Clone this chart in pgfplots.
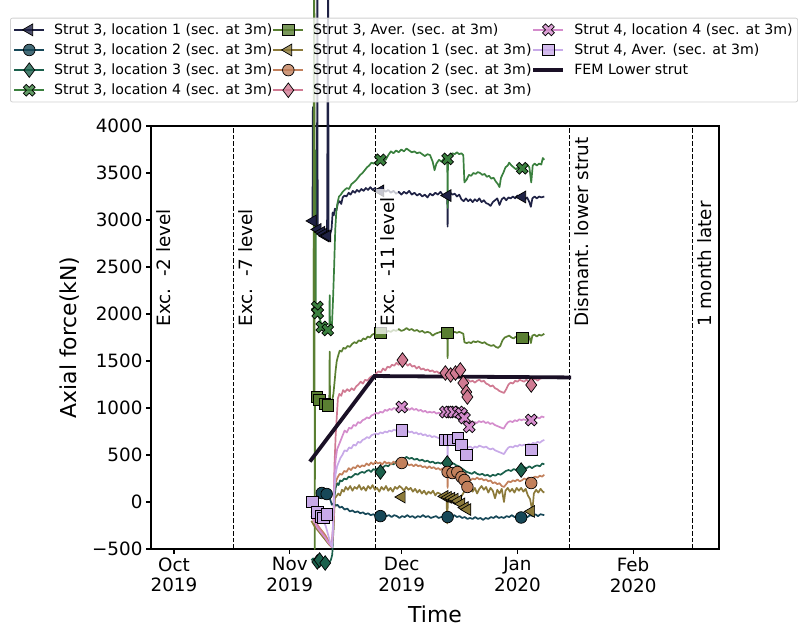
\documentclass[border=0pt]{standalone}
\usepackage{fontspec}
\setmainfont{DejaVu Sans}
\usepackage{pgfplots}
\pgfplotsset{compat=1.18}
\definecolor{c1}{RGB}{31,34,69}
\definecolor{c2}{RGB}{23,72,88}
\definecolor{c3}{RGB}{27,96,76}
\definecolor{c4}{RGB}{58,128,62}
\definecolor{c5}{RGB}{90,127,50}
\definecolor{c6}{RGB}{140,122,58}
\definecolor{c7}{RGB}{194,128,92}
\definecolor{c8}{RGB}{208,122,146}
\definecolor{c9}{RGB}{212,140,204}
\definecolor{c10}{RGB}{200,170,232}
\definecolor{c11}{RGB}{26,16,38}
\pgfdeclareplotmark{Xfill}{%
  \pgfpathmoveto{\pgfqpoint{-0.474\pgfplotmarksize}{0.940\pgfplotmarksize}}%
  \pgfpathlineto{\pgfqpoint{0pt}{0.467\pgfplotmarksize}}%
  \pgfpathlineto{\pgfqpoint{0.474\pgfplotmarksize}{0.940\pgfplotmarksize}}%
  \pgfpathlineto{\pgfqpoint{0.940\pgfplotmarksize}{0.474\pgfplotmarksize}}%
  \pgfpathlineto{\pgfqpoint{0.467\pgfplotmarksize}{0pt}}%
  \pgfpathlineto{\pgfqpoint{0.940\pgfplotmarksize}{-0.474\pgfplotmarksize}}%
  \pgfpathlineto{\pgfqpoint{0.474\pgfplotmarksize}{-0.940\pgfplotmarksize}}%
  \pgfpathlineto{\pgfqpoint{0pt}{-0.467\pgfplotmarksize}}%
  \pgfpathlineto{\pgfqpoint{-0.474\pgfplotmarksize}{-0.940\pgfplotmarksize}}%
  \pgfpathlineto{\pgfqpoint{-0.940\pgfplotmarksize}{-0.474\pgfplotmarksize}}%
  \pgfpathlineto{\pgfqpoint{-0.467\pgfplotmarksize}{0pt}}%
  \pgfpathlineto{\pgfqpoint{-0.940\pgfplotmarksize}{0.474\pgfplotmarksize}}%
  \pgfpathclose
  \pgfusepathqfillstroke
}
\pgfplotsset{
  ln/.style={line width=1.7bp, line join=round, forget plot},
  mk/.style={only marks, forget plot},
  m1/.style={mark=triangle*, mark size=6.8bp, mark options={rotate=90, fill=c1, draw=black, line width=0.7bp, solid}},
  m2/.style={mark=*, mark size=5.8bp, mark options={fill=c2, draw=black, line width=0.7bp, solid}},
  m3/.style={mark=diamond*, mark size=7.3bp, mark options={fill=c3, draw=black, line width=0.7bp, solid}},
  m4/.style={mark=Xfill, mark size=6.3bp, mark options={fill=c4, draw=black, line width=0.7bp, solid}},
  m5/.style={mark=square*, mark size=5.8bp, mark options={fill=c5, draw=black, line width=0.7bp, solid}},
  m6/.style={mark=triangle*, mark size=6.8bp, mark options={rotate=90, fill=c6, draw=black, line width=0.7bp, solid}},
  m7/.style={mark=*, mark size=5.8bp, mark options={fill=c7, draw=black, line width=0.7bp, solid}},
  m8/.style={mark=diamond*, mark size=7.3bp, mark options={fill=c8, draw=black, line width=0.7bp, solid}},
  m9/.style={mark=Xfill, mark size=6.3bp, mark options={fill=c9, draw=black, line width=0.7bp, solid}},
  m10/.style={mark=square*, mark size=5.8bp, mark options={fill=c10, draw=black, line width=0.7bp, solid}},
}
\begin{document}
\begin{tikzpicture}
\useasboundingbox (0,0) rectangle (798bp,626bp);
\clip (0,0) rectangle (798bp,626bp);
\begin{axis}[
  scale only axis, width=568bp, height=423bp,
  at={(151bp,77bp)}, anchor=south west,
  clip=false,
  xmin=-6.16, xmax=146, ymin=-500, ymax=4000,
  xtick={0,31,61,92,123},
  xticklabels={{Oct\\2019},{Nov\\2019},{Dec\\2019},{Jan\\2020},{Feb\\2020}},
  ytick={-500,0,500,1000,1500,2000,2500,3000,3500,4000},
  yticklabels={−500,0,500,1000,1500,2000,2500,3000,3500,4000},
  xticklabel style={align=center, font=\fontsize{18.4}{20.7}\selectfont},
  yticklabel style={font=\fontsize{18.4}{20.7}\selectfont},
  tick align=outside, major tick length=5bp, xtick pos=bottom, ytick pos=left,
  tick style={line width=1.1bp, black},
  axis line style={line width=1.5bp},
  xlabel={Time}, ylabel={Axial force(kN)},
  label style={font=\fontsize{22}{26}\selectfont},
  xlabel style={at={(0.5,-0.173)}, anchor=base, inner sep=0pt},
  ylabel style={at={(-0.1426,0.5)}, anchor=center},
  legend columns=3, legend cell align=left,
  legend image code/.code={\draw[mark repeat=2,mark phase=2,#1] plot coordinates {(0bp,0bp) (15bp,0bp) (30bp,0bp)};},
  legend style={at={(-0.2482,1.256)}, anchor=north west,
    draw=black!18, line width=0.8bp, rounded corners=2bp,
    fill=white, fill opacity=0.8, draw opacity=1, text opacity=1,
    font=\fontsize{14.2}{16}\selectfont,
    inner xsep=3bp, inner ysep=3.6bp, row sep=3.9bp,
    nodes={inner sep=2bp},
    /tikz/every odd column/.append style={column sep=7bp},
    /tikz/every even column/.append style={column sep=-2bp}},
]
% vertical event lines
\addplot[black, line width=1.1bp, dash pattern=on 4.5bp off 2bp, forget plot] coordinates {(-6,-500) (-6,4000)};
\addplot[black, line width=1.1bp, dash pattern=on 4.5bp off 2bp, forget plot] coordinates {(16,-500) (16,4000)};
\addplot[black, line width=1.1bp, dash pattern=on 4.5bp off 2bp, forget plot] coordinates {(54,-500) (54,4000)};
\addplot[black, line width=1.1bp, dash pattern=on 4.5bp off 2bp, forget plot] coordinates {(106,-500) (106,4000)};
\addplot[black, line width=1.1bp, dash pattern=on 4.5bp off 2bp, forget plot] coordinates {(139,-500) (139,4000)};

% Strut 3, location 1
\addplot[ln, c1] coordinates {(36.8,2980) (37.1,2990) (37.2,4200) (37.3,2990) (37.8,2960) (38.3,2950) (38.4,6000) (38.5,2900) (39.2,2880) (39.8,2870) (40.4,2860) (41.0,2850) (41.3,6000) (41.4,2840) (41.8,2850) (42.2,2900) (42.5,3080) (42.8,3050) (43.1,3120) (43.5,3100) (43.9,3180) (44.4,3200) (44.8,3170) (45.2,3240) (45.7,3260) (46.2,3250) (46.8,3290) (47.3,3270) (47.9,3310) (48.5,3290) (49.0,3320) (49.6,3300) (50.2,3330) (50.8,3310) (51.4,3340) (52.0,3320) (52.6,3350) (53.2,3320) (53.8,3340) (54.5,3310) (55.3,3310) (56.0,3330) (56.7,3300) (57.4,3320) (58.1,3290) (58.8,3310) (59.5,3280) (60.2,3300) (60.9,3270) (61.6,3300) (62.3,3280) (63.0,3310) (63.7,3270) (64.4,3290) (65.1,3260) (65.8,3280) (66.5,3250) (67.2,3270) (67.9,3240) (68.6,3280) (69.3,3260) (70.0,3290) (70.7,3270) (71.4,3300) (72.1,3260) (72.8,3280) (73.2,3260) (73.3,2930) (73.4,3270) (74.0,3290) (74.6,3270) (75.2,3280) (75.8,3250) (76.4,3270) (77.0,3220) (77.6,3200) (78.2,3230) (78.8,3200) (79.4,3220) (80.0,3190) (80.6,3220) (81.2,3200) (81.8,3230) (82.4,3190) (83.0,3210) (83.6,3180) (84.2,3170) (84.8,3150) (85.4,3190) (86.0,3210) (86.6,3230) (87.2,3160) (87.8,3220) (88.4,3240) (89.0,3210) (89.6,3240) (90.2,3230) (90.8,3250) (91.4,3230) (92.0,3260) (92.6,3240) (93.3,3250) (94.0,3220) (94.6,3240) (95.2,3190) (95.6,3140) (96.0,3230) (96.6,3250) (97.2,3230) (97.8,3250) (98.4,3240) (99.2,3250)};
\addplot[mk, m1] coordinates {(37.2,2990) (38.5,2900) (39.5,2870) (40.0,2850) (40.6,2830) (41.1,2830) (55.3,3310) (73.3,3260) (93.3,3245)};

% Strut 3, location 2
\addplot[ln, c2] coordinates {(36.8,0) (37.3,20) (37.8,40) (38.4,60) (39.0,80) (39.6,90) (40.2,90) (40.8,80) (41.4,60) (41.9,20) (42.3,-30) (42.8,-10) (43.3,-40) (43.8,-30) (44.4,-60) (45.0,-50) (45.7,-80) (46.4,-70) (47.1,-100) (47.8,-90) (48.5,-110) (49.2,-100) (49.9,-120) (50.6,-110) (51.3,-130) (52.0,-120) (52.7,-140) (53.4,-130) (54.1,-150) (54.8,-140) (55.5,-150) (56.2,-130) (56.9,-150) (57.6,-140) (58.3,-160) (59.0,-140) (59.7,-150) (60.4,-170) (61.1,-150) (61.8,-160) (62.5,-140) (63.2,-160) (63.9,-150) (64.6,-170) (65.3,-150) (66.0,-160) (66.7,-140) (67.4,-160) (68.1,-150) (68.8,-170) (69.5,-160) (70.2,-150) (70.9,-170) (71.6,-160) (72.3,-150) (73.0,-170) (73.7,-150) (74.4,-160) (75.1,-140) (75.8,-160) (76.5,-150) (77.2,-170) (77.9,-160) (78.6,-180) (79.3,-170) (80.0,-180) (80.7,-160) (81.4,-180) (82.1,-170) (82.8,-190) (83.5,-170) (84.2,-180) (84.9,-160) (85.6,-170) (86.3,-150) (87.0,-170) (87.7,-160) (88.4,-170) (89.1,-150) (89.8,-160) (90.5,-140) (91.2,-160) (91.9,-150) (92.6,-170) (93.3,-160) (94.0,-150) (94.7,-160) (95.4,-140) (96.1,-150) (96.8,-130) (97.5,-150) (98.2,-130) (99.2,-140)};
\addplot[mk, m2] coordinates {(39.6,96) (40.9,85) (55.3,-150) (73.3,-160) (93.0,-165)};

% Strut 3, location 3
\addplot[ln, c3] coordinates {(36.8,-620) (37.3,-600) (37.8,-640) (38.4,-620) (39.0,-640) (39.6,-620) (40.2,-650) (40.8,-630) (41.4,-650) (42.0,-620) (42.4,-560) (42.7,-300) (43.0,60) (43.3,150) (43.7,200) (44.1,180) (44.5,230) (45.0,220) (45.6,250) (46.2,240) (46.8,270) (47.4,260) (48.0,280) (48.6,300) (49.2,290) (49.8,310) (50.4,320) (51.0,310) (51.6,330) (52.2,340) (52.8,320) (53.4,350) (54.0,340) (54.6,360) (55.3,330) (56.0,370) (56.7,390) (57.4,380) (58.1,410) (58.8,400) (59.5,430) (60.2,450) (60.9,470) (61.6,460) (62.3,480) (63.0,460) (63.7,470) (64.4,450) (65.1,460) (65.8,440) (66.5,450) (67.2,430) (67.9,440) (68.6,420) (69.3,430) (70.0,410) (70.7,420) (71.4,410) (72.1,420) (72.8,410) (73.5,415) (74.2,400) (74.9,410) (75.6,390) (76.3,380) (77.0,360) (77.7,340) (78.4,320) (79.1,310) (79.8,300) (80.5,320) (81.2,300) (81.9,290) (82.6,300) (83.3,280) (84.0,290) (84.7,270) (85.4,290) (86.1,280) (86.8,300) (87.5,290) (88.2,310) (88.9,330) (89.6,340) (90.3,330) (91.0,350) (91.7,340) (92.4,360) (93.1,350) (93.8,370) (94.5,360) (95.2,380) (95.9,360) (96.6,380) (97.3,390) (98.0,380) (98.7,410) (99.2,400)};
\addplot[mk, m3] coordinates {(38.4,-638) (39.0,-617) (40.5,-649) (55.3,319) (73.2,415) (93.0,340)};

% Strut 3, location 4
\addplot[ln, c4] coordinates {(36.8,2050) (37.4,2060) (37.5,6000) (37.6,2040) (37.9,3740) (38.0,2020) (38.5,1990) (39.0,1950) (39.6,1880) (40.2,1860) (40.8,1850) (41.2,1830) (41.6,1840) (41.7,2200) (41.8,1850) (42.3,1870) (42.6,2150) (42.9,2500) (43.2,2900) (43.5,3100) (43.8,3180) (44.2,3250) (44.7,3270) (45.2,3300) (45.7,3320) (46.3,3340) (46.9,3330) (47.5,3380) (48.1,3400) (48.7,3420) (49.3,3450) (49.9,3480) (50.5,3500) (51.1,3530) (51.7,3560) (52.3,3580) (52.9,3610) (53.5,3600) (54.1,3620) (54.7,3630) (55.3,3640) (56.0,3660) (56.7,3640) (57.4,3690) (58.1,3730) (58.8,3710) (59.5,3740) (60.2,3720) (60.9,3750) (61.6,3730) (62.3,3760) (63.0,3740) (63.7,3720) (64.4,3730) (65.1,3710) (65.8,3720) (66.5,3700) (67.2,3680) (67.9,3700) (68.6,3690) (69.3,3620) (69.8,3530) (70.3,3600) (71.0,3640) (71.7,3620) (72.4,3660) (73.2,3650) (73.3,3130) (73.4,3660) (74.0,3690) (74.6,3710) (75.2,3700) (75.8,3720) (76.4,3700) (77.0,3710) (77.5,3690) (77.8,3400) (78.4,3430) (79.0,3480) (79.6,3470) (80.2,3500) (80.8,3490) (81.4,3510) (82.0,3500) (82.6,3480) (83.2,3490) (83.8,3460) (84.4,3470) (85.0,3440) (85.6,3450) (86.2,3410) (86.8,3380) (87.2,3350) (87.6,3450) (88.2,3500) (88.8,3560) (89.4,3580) (89.8,3610) (90.4,3580) (91.0,3560) (91.6,3540) (92.2,3560) (92.8,3540) (93.3,3550) (94.0,3570) (94.6,3590) (95.2,3560) (95.7,3400) (96.1,3580) (96.6,3600) (97.2,3580) (97.8,3600) (98.4,3590) (98.8,3660) (99.2,3640)};
\addplot[mk, m4] coordinates {(38.4,2074) (38.5,2010) (39.6,1862) (41.2,1830) (55.3,3640) (73.3,3650) (93.3,3550)};

% Strut 3, Aver.
\addplot[ln, c5] coordinates {(36.8,1100) (37.4,1110) (37.6,6000) (37.7,-500) (37.8,1100) (38.3,1090) (38.9,1080) (39.5,1060) (40.1,1050) (40.7,1040) (41.2,1030) (41.6,1040) (41.7,1600) (41.8,1040) (42.3,1060) (42.7,1150) (43.0,1270) (43.3,1400) (43.6,1500) (44.0,1560) (44.4,1610) (44.9,1600) (45.4,1640) (45.9,1630) (46.5,1660) (47.1,1650) (47.7,1680) (48.3,1700) (48.9,1690) (49.5,1720) (50.1,1710) (50.7,1740) (51.3,1730) (51.9,1760) (52.5,1750) (53.1,1780) (53.7,1790) (54.3,1780) (55.3,1800) (56.0,1810) (56.7,1800) (57.4,1820) (58.1,1810) (58.8,1830) (59.5,1820) (60.2,1840) (60.9,1820) (61.6,1830) (62.3,1850) (63.0,1830) (63.7,1840) (64.4,1820) (65.1,1830) (65.8,1810) (66.5,1820) (67.2,1800) (67.9,1810) (68.6,1800) (69.3,1770) (70.0,1790) (70.7,1800) (71.4,1810) (72.1,1800) (72.8,1810) (73.2,1800) (73.3,1530) (73.4,1800) (74.0,1810) (74.6,1800) (75.2,1810) (75.8,1800) (76.4,1810) (77.0,1800) (77.5,1790) (77.8,1700) (78.4,1690) (79.0,1700) (79.6,1690) (80.2,1710) (80.8,1700) (81.4,1710) (82.0,1700) (82.6,1690) (83.2,1700) (83.8,1680) (84.4,1670) (85.0,1660) (85.6,1670) (86.2,1650) (86.8,1640) (87.4,1660) (88.0,1720) (88.6,1750) (89.2,1760) (89.8,1770) (90.4,1750) (91.0,1740) (91.6,1760) (92.2,1740) (92.8,1750) (93.3,1745) (94.0,1760) (94.6,1770) (95.2,1760) (95.6,1690) (96.0,1770) (96.6,1780) (97.2,1760) (97.8,1780) (98.4,1770) (99.2,1790)};
\addplot[mk, m5] coordinates {(38.3,1117) (39.0,1085) (40.4,1043) (41.2,1030) (55.3,1800) (73.3,1800) (93.3,1745)};

% Strut 4, location 1
\addplot[ln, c6] coordinates {(36.8,-200) (37.5,-250) (38.5,-300) (39.5,-350) (40.5,-400) (41.5,-450) (42.3,-480) (42.8,-200) (43.1,40) (43.5,60) (44.0,90) (44.5,70) (45.0,130) (45.5,110) (46.0,160) (46.6,130) (47.2,170) (47.8,120) (48.4,160) (49.0,140) (49.6,180) (50.2,130) (50.8,160) (51.4,120) (52.0,170) (52.6,140) (53.2,180) (53.8,130) (54.4,150) (55.0,110) (55.6,160) (56.2,130) (56.8,170) (57.4,120) (58.0,150) (58.6,110) (59.2,160) (59.8,140) (60.4,170) (61.0,150) (61.6,120) (62.2,160) (62.8,130) (63.4,150) (64.0,110) (64.6,140) (65.2,100) (65.8,130) (66.4,90) (67.0,120) (67.6,80) (68.2,110) (68.8,90) (69.4,120) (70.0,70) (70.6,100) (71.2,90) (71.8,60) (72.4,80) (73.0,60) (73.2,-230) (73.4,70) (74.0,40) (74.6,60) (75.2,20) (75.8,50) (76.4,30) (77.0,60) (77.6,100) (78.2,150) (78.8,120) (79.4,160) (80.0,110) (80.6,150) (81.2,90) (81.8,140) (82.4,170) (83.0,130) (83.6,160) (84.2,100) (84.8,150) (85.4,120) (86.0,40) (86.6,130) (87.2,90) (87.8,140) (88.4,0) (88.8,120) (89.4,150) (90.0,110) (90.6,140) (91.2,100) (91.8,150) (92.4,120) (93.0,150) (93.6,110) (94.2,140) (94.8,70) (95.4,30) (96.0,-100) (96.4,90) (97.0,130) (97.6,100) (98.2,140) (98.8,110) (99.2,100)};
\addplot[mk, m6] coordinates {(61.0,53) (72.5,60) (73.4,50) (74.3,40) (75.2,30) (76.1,10) (77.0,-20) (77.9,-60) (78.6,-80) (95.7,-100)};

% Strut 4, location 2
\addplot[ln, c7] coordinates {(36.8,-150) (37.5,-200) (38.5,-250) (39.5,-300) (40.5,-350) (41.5,-420) (42.3,-480) (42.7,-300) (43.0,150) (43.4,220) (43.8,260) (44.4,300) (45.0,290) (45.6,330) (46.2,320) (46.8,360) (47.4,340) (48.0,370) (48.6,360) (49.2,390) (49.8,370) (50.4,390) (51.0,380) (51.6,410) (52.2,390) (52.8,420) (53.4,400) (54.0,430) (54.6,410) (55.2,420) (55.8,400) (56.4,430) (57.0,410) (57.6,420) (58.2,400) (58.8,430) (59.4,410) (60.0,420) (60.6,400) (61.2,415) (61.8,390) (62.4,410) (63.0,390) (63.6,400) (64.2,380) (64.8,400) (65.4,380) (66.0,390) (66.6,370) (67.2,380) (67.8,360) (68.4,380) (69.0,360) (69.6,370) (70.2,350) (70.8,360) (71.4,340) (72.0,360) (72.6,340) (73.2,330) (73.3,150) (73.4,330) (74.0,320) (74.6,330) (75.2,310) (75.8,300) (76.4,290) (77.0,270) (77.6,250) (78.2,240) (78.8,250) (79.4,230) (80.0,250) (80.6,240) (81.2,260) (81.8,240) (82.4,250) (83.0,230) (83.6,240) (84.2,220) (84.8,230) (85.4,200) (86.0,210) (86.6,190) (87.2,200) (87.8,170) (88.4,160) (89.0,190) (89.6,220) (90.2,210) (90.8,230) (91.4,220) (92.0,240) (92.6,220) (93.2,230) (93.8,250) (94.4,240) (95.0,260) (95.6,230) (96.2,260) (96.8,270) (97.4,260) (98.0,280) (98.6,270) (99.2,290)};
\addplot[mk, m7] coordinates {(61.0,415) (73.3,320) (74.6,308) (75.9,319) (77.0,266) (77.8,234) (78.6,160) (95.7,202)};

% Strut 4, location 3
\addplot[ln, c8] coordinates {(36.8,-100) (37.3,-150) (37.9,-200) (38.5,-250) (39.3,-300) (40.1,-350) (40.9,-400) (41.7,-450) (42.3,-480) (42.7,-200) (43.0,400) (43.3,700) (43.6,900) (43.9,1100) (44.3,1150) (44.8,1130) (45.3,1190) (45.8,1170) (46.4,1200) (47.0,1180) (47.6,1210) (48.2,1190) (48.8,1230) (49.4,1250) (50.0,1280) (50.6,1260) (51.2,1300) (51.8,1290) (52.4,1320) (53.0,1340) (53.6,1330) (54.2,1370) (54.8,1390) (55.4,1380) (56.0,1420) (56.6,1400) (57.2,1440) (57.8,1430) (58.4,1460) (59.0,1450) (59.6,1480) (60.2,1460) (60.8,1490) (61.4,1470) (62.0,1480) (62.6,1450) (63.2,1470) (63.8,1440) (64.4,1450) (65.0,1420) (65.6,1440) (66.2,1410) (66.8,1420) (67.4,1400) (68.0,1410) (68.6,1390) (69.2,1400) (69.8,1380) (70.4,1390) (71.0,1370) (71.6,1380) (72.2,1360) (72.8,1370) (73.4,1350) (74.0,1360) (74.6,1340) (75.2,1350) (75.8,1330) (76.4,1340) (77.0,1320) (77.6,1300) (78.2,1290) (78.8,1300) (79.4,1280) (80.0,1290) (80.6,1270) (81.2,1290) (81.8,1300) (82.4,1280) (83.0,1290) (83.6,1260) (84.2,1250) (84.8,1230) (85.4,1240) (86.0,1210) (86.6,1200) (87.2,1180) (87.8,1170) (88.4,1160) (89.0,1200) (89.6,1250) (90.2,1270) (90.8,1260) (91.4,1290) (92.0,1280) (92.6,1300) (93.2,1290) (93.8,1280) (94.4,1300) (95.0,1280) (95.6,1270) (96.2,1300) (96.8,1310) (97.4,1290) (98.0,1310) (98.6,1320) (99.2,1330)};
\addplot[mk, m8] coordinates {(61.2,1510) (72.7,1372) (74.1,1351) (75.4,1372) (76.7,1404) (77.5,1266) (78.3,1170) (78.6,1117) (95.7,1245)};

% Strut 4, location 4
\addplot[ln, c9] coordinates {(36.8,-150) (37.5,-200) (38.5,-280) (39.5,-330) (40.5,-380) (41.5,-440) (42.3,-470) (42.7,-150) (43.0,300) (43.3,450) (43.7,560) (44.1,600) (44.6,650) (45.1,700) (45.7,760) (46.3,740) (46.9,790) (47.5,780) (48.1,820) (48.7,810) (49.3,850) (49.9,840) (50.5,870) (51.1,880) (51.7,900) (52.3,890) (52.9,920) (53.5,930) (54.1,950) (54.7,940) (55.3,960) (55.9,950) (56.5,980) (57.1,970) (57.7,990) (58.3,980) (58.9,1000) (59.5,990) (60.1,1010) (60.7,1000) (61.3,1010) (61.9,990) (62.5,1000) (63.1,980) (63.7,1000) (64.3,980) (64.9,990) (65.5,970) (66.1,980) (66.7,960) (67.3,970) (67.9,950) (68.5,960) (69.1,950) (69.7,960) (70.3,940) (70.9,950) (71.5,940) (72.1,950) (72.7,940) (73.3,945) (73.9,930) (74.5,940) (75.1,920) (75.7,930) (76.3,910) (76.9,900) (77.5,880) (78.1,860) (78.7,850) (79.3,860) (79.9,840) (80.5,850) (81.1,840) (81.7,860) (82.3,850) (82.9,860) (83.5,840) (84.1,850) (84.7,830) (85.3,840) (85.9,820) (86.5,810) (87.1,800) (87.7,790) (88.3,780) (88.9,820) (89.5,850) (90.1,860) (90.7,850) (91.3,870) (91.9,860) (92.5,880) (93.1,870) (93.7,880) (94.3,870) (94.9,890) (95.5,880) (96.1,890) (96.7,880) (97.3,900) (97.9,890) (98.5,910) (99.2,900)};
\addplot[mk, m9] coordinates {(61.0,1011) (72.7,957) (73.8,957) (74.9,957) (76.2,957) (77.0,940) (77.8,894) (79.1,800) (95.7,872)};

% Strut 4, Aver.
\addplot[ln, c10] coordinates {(36.8,-20) (37.3,-60) (37.9,-120) (38.5,-150) (39.2,-180) (39.9,-200) (40.6,-250) (41.3,-350) (42.0,-450) (42.4,-480) (42.7,-150) (43.0,150) (43.3,300) (43.7,380) (44.1,420) (44.6,470) (45.1,500) (45.7,550) (46.3,540) (46.9,580) (47.5,570) (48.1,610) (48.7,600) (49.3,640) (49.9,630) (50.5,660) (51.1,670) (51.7,690) (52.3,680) (52.9,710) (53.5,720) (54.1,730) (54.7,720) (55.3,740) (55.9,730) (56.5,750) (57.1,740) (57.7,760) (58.3,750) (58.9,770) (59.5,760) (60.1,770) (60.7,760) (61.3,765) (61.9,750) (62.5,760) (63.1,740) (63.7,750) (64.3,730) (64.9,740) (65.5,720) (66.1,730) (66.7,710) (67.3,720) (67.9,700) (68.5,710) (69.1,690) (69.7,700) (70.3,690) (70.9,680) (71.5,690) (72.1,680) (72.7,670) (73.2,680) (73.3,450) (73.4,670) (74.0,680) (74.6,670) (75.2,680) (75.8,660) (76.4,650) (77.0,630) (77.6,610) (78.2,590) (78.8,580) (79.4,590) (80.0,570) (80.6,590) (81.2,580) (81.8,600) (82.4,590) (83.0,580) (83.6,590) (84.2,570) (84.8,560) (85.4,570) (86.0,550) (86.6,540) (87.2,530) (87.8,520) (88.4,510) (89.0,550) (89.6,580) (90.2,590) (90.8,580) (91.4,600) (92.0,590) (92.6,610) (93.2,600) (93.8,610) (94.4,600) (95.0,620) (95.6,610) (96.2,630) (96.8,620) (97.4,640) (98.0,630) (98.6,650) (99.2,660)};
\addplot[mk, m10] coordinates {(37.0,0) (38.4,-110) (39.3,-150) (40.0,-170) (40.9,-130) (61.0,760) (72.7,660) (73.8,660) (74.9,660) (76.0,681) (76.9,606) (78.3,500) (95.7,553)};

% FEM
\addplot[c11, line width=3.8bp, forget plot] coordinates {(36.4,430) (53.7,1340) (106.4,1325)};

\coordinate (L1) at (axis cs:-6,1780);
\coordinate (L2) at (axis cs:16,1780);
\coordinate (L3) at (axis cs:54,1780);
\coordinate (L4) at (axis cs:106,1780);
\coordinate (L5) at (axis cs:139,1780);

% legend (matplotlib column order)
\addlegendimage{c1, line width=1.7bp, m1}\addlegendentry{Strut 3, location 1 (sec. at 3m)}
\addlegendimage{c5, line width=1.7bp, m5}\addlegendentry{Strut 3, Aver. (sec. at 3m)}
\addlegendimage{c9, line width=1.7bp, m9}\addlegendentry{Strut 4, location 4 (sec. at 3m)}
\addlegendimage{c2, line width=1.7bp, m2}\addlegendentry{Strut 3, location 2 (sec. at 3m)}
\addlegendimage{c6, line width=1.7bp, m6}\addlegendentry{Strut 4, location 1 (sec. at 3m)}
\addlegendimage{c10, line width=1.7bp, m10}\addlegendentry{Strut 4, Aver. (sec. at 3m)}
\addlegendimage{c3, line width=1.7bp, m3}\addlegendentry{Strut 3, location 3 (sec. at 3m)}
\addlegendimage{c7, line width=1.7bp, m7}\addlegendentry{Strut 4, location 2 (sec. at 3m)}
\addlegendimage{c11, line width=3.8bp}\addlegendentry{FEM Lower strut}
\addlegendimage{c4, line width=1.7bp, m4}\addlegendentry{Strut 3, location 4 (sec. at 3m)}
\addlegendimage{c8, line width=1.7bp, m8}\addlegendentry{Strut 4, location 3 (sec. at 3m)}
\addlegendimage{empty legend}\addlegendentry{}
\end{axis}
\tikzset{lab/.style={rotate=90, anchor=north west, fill=white, fill opacity=0.75, text opacity=1, inner xsep=8bp, inner ysep=4bp, font=\fontsize{18.4}{20}\selectfont}}
\node[lab] at ([xshift=0.5bp]L1) {Exc.~~-2 level};
\node[lab] at ([xshift=0.5bp]L2) {Exc.~~-7 level};
\node[lab] at ([xshift=0.5bp]L3) {Exc.~~-11 level};
\node[lab] at ([xshift=0.5bp]L4) {Dismant. lower strut};
\node[lab] at ([xshift=0.5bp]L5) {1 month later};
\end{tikzpicture}
\end{document}
